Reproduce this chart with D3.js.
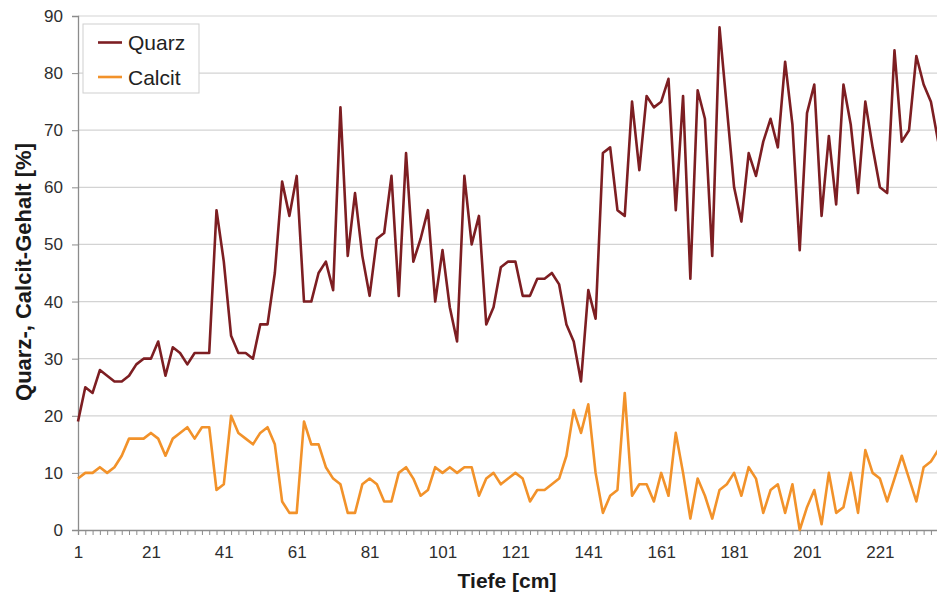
<!DOCTYPE html>
<html>
<head>
<meta charset="utf-8">
<script src="https://cdn.jsdelivr.net/npm/d3@7/dist/d3.min.js"></script>
<style>
  html, body { margin: 0; padding: 0; background: #fff; }
  svg { display: block; font-family: "Liberation Sans", Arial, sans-serif; }
</style>
</head>
<body>
<svg id="chart" width="937" height="596"></svg>
<script>
// Probenahmetiefen (cm), alle 2 cm
const depths = d3.range(1, 238, 2);

// Quarzgehalt [%]
const quarz = [
  19, 25, 24, 28, 27, 26, 26, 27, 29, 30,
  30, 33, 27, 32, 31, 29, 31, 31, 31, 56,
  47, 34, 31, 31, 30, 36, 36, 45, 61, 55,
  62, 40, 40, 45, 47, 42, 74, 48, 59, 48,
  41, 51, 52, 62, 41, 66, 47, 51, 56, 40,
  49, 39, 33, 62, 50, 55, 36, 39, 46, 47,
  47, 41, 41, 44, 44, 45, 43, 36, 33, 26,
  42, 37, 66, 67, 56, 55, 75, 63, 76, 74,
  75, 79, 56, 76, 44, 77, 72, 48, 88, 74,
  60, 54, 66, 62, 68, 72, 67, 82, 71, 49,
  73, 78, 55, 69, 57, 78, 71, 59, 75, 67,
  60, 59, 84, 68, 70, 83, 78, 75, 68
];

// Calcitgehalt [%]
const calcit = [
   9, 10, 10, 11, 10, 11, 13, 16, 16, 16,
  17, 16, 13, 16, 17, 18, 16, 18, 18,  7,
   8, 20, 17, 16, 15, 17, 18, 15,  5,  3,
   3, 19, 15, 15, 11,  9,  8,  3,  3,  8,
   9,  8,  5,  5, 10, 11,  9,  6,  7, 11,
  10, 11, 10, 11, 11,  6,  9, 10,  8,  9,
  10,  9,  5,  7,  7,  8,  9, 13, 21, 17,
  22, 10,  3,  6,  7, 24,  6,  8,  8,  5,
  10,  6, 17, 10,  2,  9,  6,  2,  7,  8,
  10,  6, 11,  9,  3,  7,  8,  3,  8,  0,
   4,  7,  1, 10,  3,  4, 10,  3, 14, 10,
   9,  5,  9, 13,  9,  5, 11, 12, 14
];

const yTicks = [0, 10, 20, 30, 40, 50, 60, 70, 80, 90];
const seriesNames = ["Quarz", "Calcit"];
const seriesColors = ["#7d1e22", "#f2922a"];

const svg = d3.select("#chart");
const W = 937;
const plotLeft = 78, plotTop = 16, plotBottom = 530, step = 7.29;

const x = d3.scalePoint()
  .domain(depths)
  .range([plotLeft, plotLeft + step * (depths.length - 1)]);

const y = d3.scaleLinear().domain([0, 90]).range([plotBottom, plotTop]);

// horizontal gridlines
svg.append("g")
  .selectAll("line")
  .data(yTicks.filter(d => d > 0))
  .join("line")
  .attr("x1", plotLeft).attr("x2", W)
  .attr("y1", d => y(d)).attr("y2", d => y(d))
  .attr("stroke", "#d3d3d3").attr("stroke-width", 1.2);

// y axis
const yAxis = svg.append("g")
  .attr("transform", `translate(${plotLeft},0)`)
  .call(d3.axisLeft(y).tickValues(yTicks).tickSize(6).tickPadding(9));
yAxis.select(".domain").attr("stroke", "#8c8c8c").attr("stroke-width", 1.3);
yAxis.selectAll(".tick line").attr("stroke", "#8c8c8c");
yAxis.selectAll(".tick text")
  .attr("fill", "#2e2e2e").style("font-size", "17px");

// x axis: a tick for each sample, label every 10th
const xAxis = svg.append("g")
  .attr("transform", `translate(0,${plotBottom})`)
  .call(d3.axisBottom(x)
    .tickSize(5).tickPadding(11)
    .tickFormat((d, i) => (i % 10 === 0 ? d : "")));
xAxis.select(".domain").attr("stroke", "#8c8c8c").attr("stroke-width", 1.3);
xAxis.selectAll(".tick line").attr("stroke", "#8c8c8c");
xAxis.selectAll(".tick text")
  .attr("fill", "#2e2e2e").style("font-size", "17px");

// series lines
const line = d3.line()
  .x((d, i) => x(depths[i]))
  .y(d => y(d));

[quarz, calcit].forEach((vals, k) => {
  svg.append("path")
    .datum(vals)
    .attr("fill", "none")
    .attr("stroke", seriesColors[k])
    .attr("stroke-width", 2.6)
    .attr("stroke-linejoin", "round")
    .attr("d", line);
});

// axis titles
svg.append("text")
  .attr("x", 507).attr("y", 588)
  .attr("text-anchor", "middle")
  .style("font-size", "21px").style("font-weight", "bold")
  .attr("fill", "#1a1a1a")
  .text("Tiefe [cm]");

svg.append("text")
  .attr("transform", "translate(31,272) rotate(-90)")
  .attr("text-anchor", "middle")
  .style("font-size", "22px").style("font-weight", "bold")
  .attr("fill", "#1a1a1a")
  .text("Quarz-, Calcit-Gehalt [%]");

// legend
const legend = svg.append("g");
legend.append("rect")
  .attr("x", 83).attr("y", 24).attr("width", 116).attr("height", 69)
  .attr("fill", "#fff").attr("stroke", "#cfcfcf").attr("stroke-width", 1);
seriesNames.forEach((name, k) => {
  const ly = 42.5 + k * 34.5;
  legend.append("line")
    .attr("x1", 98).attr("x2", 122).attr("y1", ly).attr("y2", ly)
    .attr("stroke", seriesColors[k]).attr("stroke-width", 2.6);
  legend.append("text")
    .attr("x", 128).attr("y", ly + 7.5)
    .style("font-size", "21px")
    .attr("fill", "#222")
    .text(name);
});
</script>
</body>
</html>
